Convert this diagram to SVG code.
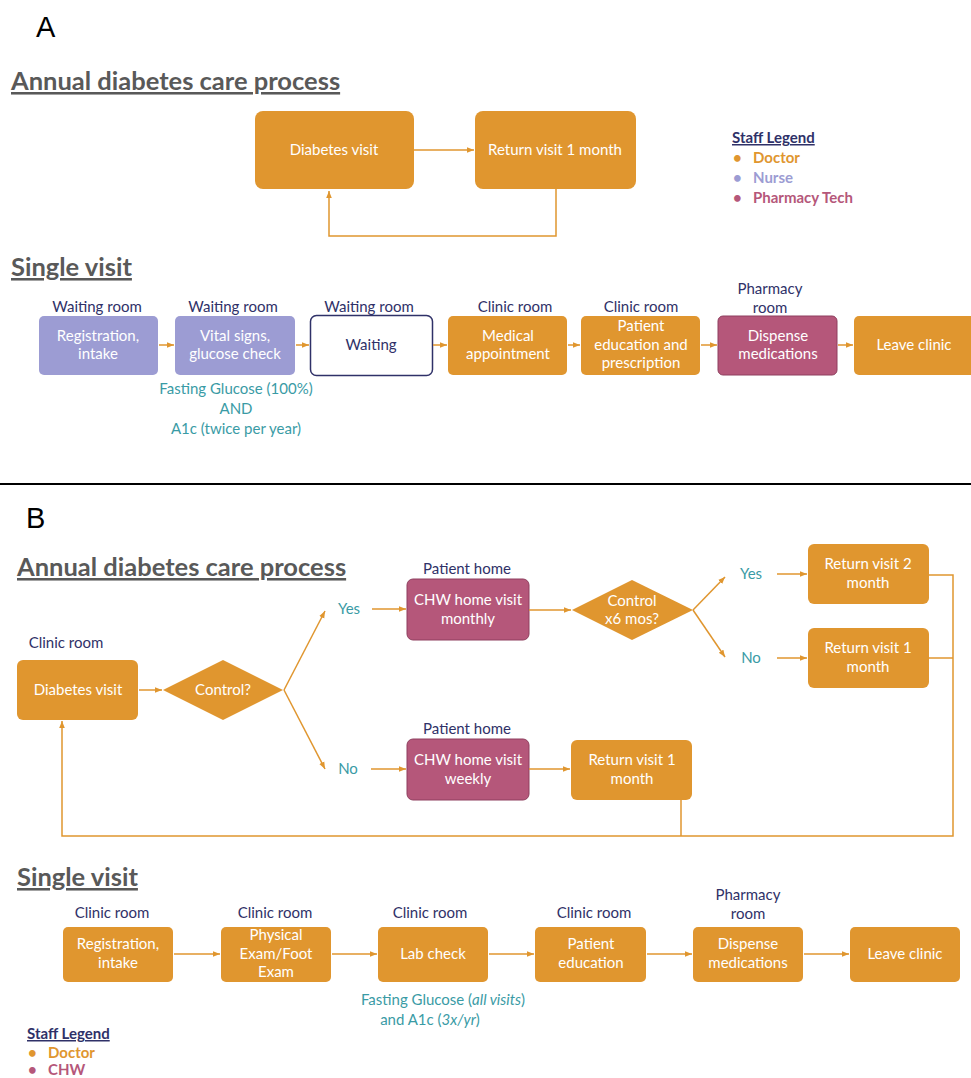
<svg xmlns="http://www.w3.org/2000/svg" width="971" height="1078" viewBox="0 0 971 1078">
<defs>
<style>
.bg{fill:#fff}
.or{fill:#E0962F}
.lv{fill:#9C9CD3}
.pk{fill:#B5577A;stroke:#8E3F5E;stroke-width:1}
.wt{fill:#fff;stroke:#2F3168;stroke-width:1.5}
.bt{font-family:Lato,"Open Sans",sans-serif;font-size:15px;fill:#fff;text-anchor:middle}
.nv{font-family:Lato,"Open Sans",sans-serif;font-size:15px;fill:#2F3168;text-anchor:middle}
.tl{font-family:Lato,"Open Sans",sans-serif;font-size:15px;fill:#3A9BA5;text-anchor:middle}
.h{font-family:Lato,"Open Sans",sans-serif;font-size:25.5px;font-weight:bold;fill:#595959;text-decoration:underline}
.lg{font-family:Lato,"Open Sans",sans-serif;font-size:15px;font-weight:bold}
.pl{font-family:"Liberation Sans",Arial,sans-serif;font-size:29px;fill:#000}
.c{fill:none;stroke:#E0962F;stroke-width:1.5}
</style>
<marker id="ah" viewBox="0 0 10 10" refX="10" refY="5" markerWidth="7" markerHeight="7" markerUnits="userSpaceOnUse" orient="auto">
<path d="M0,1 L10,5 L0,9 Z" fill="#E0962F"/>
</marker>
</defs>
<rect class="bg" x="0" y="0" width="971" height="1078"/>

<!-- Panel A -->
<text class="pl" x="36" y="37">A</text>
<text class="h" x="11" y="90">Annual diabetes care process</text>

<g id="a-diabetes-visit"><rect class="or" x="255" y="111" width="159" height="78" rx="8"/><text class="bt" x="334" y="155">Diabetes visit</text></g>
<g id="a-return-visit"><rect class="or" x="475" y="111" width="161" height="78" rx="8"/><text class="bt" x="555" y="155">Return visit 1 month</text></g>

<g id="a-legend">
<text class="lg" x="732" y="143" fill="#2F3168" text-decoration="underline">Staff Legend</text>
<text class="lg" x="733" y="163" fill="#E0962F">•</text><text class="lg" x="753" y="163" fill="#E0962F">Doctor</text>
<text class="lg" x="733" y="183" fill="#9C9CD3">•</text><text class="lg" x="753" y="183" fill="#9C9CD3">Nurse</text>
<text class="lg" x="733" y="203" fill="#B5577A">•</text><text class="lg" x="753" y="203" fill="#B5577A">Pharmacy Tech</text>
</g>

<text class="h" x="11" y="276">Single visit</text>

<g id="a-loc">
<text class="nv" x="97" y="312">Waiting room</text>
<text class="nv" x="233" y="312">Waiting room</text>
<text class="nv" x="369" y="312">Waiting room</text>
<text class="nv" x="515" y="312">Clinic room</text>
<text class="nv" x="641" y="312">Clinic room</text>
<text class="nv" x="770" y="294">Pharmacy</text>
<text class="nv" x="770" y="313">room</text>
</g>

<g id="a-registration"><rect class="lv" x="39" y="316" width="119" height="59" rx="5"/><text class="bt" x="98" y="341">Registration,</text><text class="bt" x="98" y="359">intake</text></g>
<g id="a-vitals"><rect class="lv" x="175" y="316" width="120" height="59" rx="5"/><text class="bt" x="235" y="341">Vital signs,</text><text class="bt" x="235" y="359">glucose check</text></g>
<g id="a-waiting"><rect class="wt" x="310.5" y="315.5" width="122" height="60" rx="6"/><text class="nv" x="371" y="350">Waiting</text></g>
<g id="a-medical"><rect class="or" x="448" y="316" width="119" height="59" rx="5"/><text class="bt" x="508" y="341">Medical</text><text class="bt" x="508" y="359">appointment</text></g>
<g id="a-education"><rect class="or" x="581" y="316" width="119" height="59" rx="5"/><text class="bt" x="641" y="331">Patient</text><text class="bt" x="641" y="350">education and</text><text class="bt" x="641" y="368">prescription</text></g>
<g id="a-dispense"><rect class="pk" x="718" y="316" width="119" height="59" rx="5"/><text class="bt" x="778" y="341">Dispense</text><text class="bt" x="778" y="359">medications</text></g>
<g id="a-leave"><rect class="or" x="854" y="316" width="125" height="59" rx="5"/><text class="bt" x="914" y="350">Leave clinic</text></g>

<g id="a-note">
<text class="tl" x="236" y="394">Fasting Glucose (100%)</text>
<text class="tl" x="236" y="414">AND</text>
<text class="tl" x="236" y="434">A1c (twice per year)</text>
</g>

<g id="a-connectors">
<line class="c" x1="414" y1="150" x2="474" y2="150" marker-end="url(#ah)"/>
<polyline class="c" points="556,189 556,236 329,236 329,191" marker-end="url(#ah)"/>
<line class="c" x1="159" y1="345" x2="174" y2="345" marker-end="url(#ah)"/>
<line class="c" x1="296" y1="345" x2="309" y2="345" marker-end="url(#ah)"/>
<line class="c" x1="433" y1="345" x2="447" y2="345" marker-end="url(#ah)"/>
<line class="c" x1="568" y1="345" x2="580" y2="345" marker-end="url(#ah)"/>
<line class="c" x1="701" y1="345" x2="717" y2="345" marker-end="url(#ah)"/>
<line class="c" x1="838" y1="345" x2="853" y2="345" marker-end="url(#ah)"/>
</g>

<line x1="0" y1="484" x2="971" y2="484" stroke="#000" stroke-width="2"/>

<!-- Panel B -->
<text class="pl" x="26" y="528">B</text>
<text class="h" x="17" y="576">Annual diabetes care process</text>

<g id="b-loc1">
<text class="nv" x="467" y="574">Patient home</text>
<text class="nv" x="467" y="734">Patient home</text>
<text class="nv" x="66" y="648">Clinic room</text>
</g>

<g id="b-diabetes-visit"><rect class="or" x="17" y="660" width="121" height="60" rx="6"/><text class="bt" x="78" y="695">Diabetes visit</text></g>
<g id="b-control"><polygon class="or" points="163,690 223,660 283,690 223,720"/><text class="bt" x="223" y="695">Control?</text></g>
<g id="b-yes1"><text class="tl" x="349" y="614">Yes</text></g>
<g id="b-no1"><text class="tl" x="348" y="774">No</text></g>
<g id="b-chw-monthly"><rect class="pk" x="407" y="579" width="122" height="61" rx="6"/><text class="bt" x="468" y="605">CHW home visit</text><text class="bt" x="468" y="624">monthly</text></g>
<g id="b-chw-weekly"><rect class="pk" x="407" y="739" width="122" height="61" rx="6"/><text class="bt" x="468" y="765">CHW home visit</text><text class="bt" x="468" y="784">weekly</text></g>
<g id="b-control6"><polygon class="or" points="572,610 632,580 693,610 632,640"/><text class="bt" x="632" y="606">Control</text><text class="bt" x="632" y="624">x6 mos?</text></g>
<g id="b-yes2"><text class="tl" x="751" y="579">Yes</text></g>
<g id="b-no2"><text class="tl" x="751" y="663">No</text></g>
<g id="b-return2"><rect class="or" x="808" y="544" width="121" height="60" rx="6"/><text class="bt" x="868" y="569">Return visit 2</text><text class="bt" x="868" y="588">month</text></g>
<g id="b-return1a"><rect class="or" x="808" y="628" width="121" height="60" rx="6"/><text class="bt" x="868" y="653">Return visit 1</text><text class="bt" x="868" y="672">month</text></g>
<g id="b-return1b"><rect class="or" x="571" y="740" width="121" height="60" rx="6"/><text class="bt" x="632" y="765">Return visit 1</text><text class="bt" x="632" y="784">month</text></g>

<text class="h" x="17" y="886">Single visit</text>

<g id="b-loc2">
<text class="nv" x="112" y="918">Clinic room</text>
<text class="nv" x="275" y="918">Clinic room</text>
<text class="nv" x="430" y="918">Clinic room</text>
<text class="nv" x="594" y="918">Clinic room</text>
<text class="nv" x="748" y="900">Pharmacy</text>
<text class="nv" x="748" y="919">room</text>
</g>

<g id="b-registration"><rect class="or" x="63" y="927" width="110" height="55" rx="5"/><text class="bt" x="118" y="949">Registration,</text><text class="bt" x="118" y="968">intake</text></g>
<g id="b-physical"><rect class="or" x="221" y="927" width="110" height="55" rx="5"/><text class="bt" x="276" y="940">Physical</text><text class="bt" x="276" y="959">Exam/Foot</text><text class="bt" x="276" y="977">Exam</text></g>
<g id="b-lab"><rect class="or" x="378" y="927" width="110" height="55" rx="5"/><text class="bt" x="433" y="959">Lab check</text></g>
<g id="b-education"><rect class="or" x="535" y="927" width="111" height="55" rx="5"/><text class="bt" x="591" y="949">Patient</text><text class="bt" x="591" y="968">education</text></g>
<g id="b-dispense"><rect class="or" x="693" y="927" width="110" height="55" rx="5"/><text class="bt" x="748" y="949">Dispense</text><text class="bt" x="748" y="968">medications</text></g>
<g id="b-leave"><rect class="or" x="850" y="927" width="110" height="55" rx="5"/><text class="bt" x="905" y="959">Leave clinic</text></g>

<g id="b-note">
<text class="tl" x="443" y="1005">Fasting Glucose (<tspan font-style="italic">all visits</tspan>)</text>
<text class="tl" x="430" y="1025">and A1c (<tspan font-style="italic">3x/yr</tspan>)</text>
</g>

<g id="b-legend">
<text class="lg" x="27" y="1039" fill="#2F3168" text-decoration="underline">Staff Legend</text>
<text class="lg" x="28" y="1058" fill="#E0962F">•</text><text class="lg" x="48" y="1058" fill="#E0962F">Doctor</text>
<text class="lg" x="28" y="1075" fill="#B5577A">•</text><text class="lg" x="48" y="1075" fill="#B5577A">CHW</text>
</g>

<g id="b-connectors">
<line class="c" x1="139" y1="690" x2="162" y2="690" marker-end="url(#ah)"/>
<line class="c" x1="284" y1="690" x2="325" y2="611" marker-end="url(#ah)"/>
<line class="c" x1="284" y1="690" x2="325" y2="769" marker-end="url(#ah)"/>
<line class="c" x1="372" y1="609" x2="406" y2="609" marker-end="url(#ah)"/>
<line class="c" x1="371" y1="769" x2="406" y2="769" marker-end="url(#ah)"/>
<line class="c" x1="529" y1="610" x2="571" y2="610" marker-end="url(#ah)"/>
<line class="c" x1="529" y1="769" x2="570" y2="769" marker-end="url(#ah)"/>
<line class="c" x1="693" y1="610" x2="725" y2="577" marker-end="url(#ah)"/>
<line class="c" x1="693" y1="610" x2="725" y2="657" marker-end="url(#ah)"/>
<line class="c" x1="777" y1="574" x2="807" y2="574" marker-end="url(#ah)"/>
<line class="c" x1="777" y1="658" x2="807" y2="658" marker-end="url(#ah)"/>
<polyline class="c" points="929,575 953,575 953,836 62,836 62,721" marker-end="url(#ah)"/>
<line class="c" x1="929" y1="658" x2="953" y2="658"/>
<line class="c" x1="681" y1="800" x2="681" y2="836"/>
<line class="c" x1="174" y1="954" x2="220" y2="954" marker-end="url(#ah)"/>
<line class="c" x1="332" y1="954" x2="377" y2="954" marker-end="url(#ah)"/>
<line class="c" x1="489" y1="954" x2="534" y2="954" marker-end="url(#ah)"/>
<line class="c" x1="647" y1="954" x2="692" y2="954" marker-end="url(#ah)"/>
<line class="c" x1="804" y1="954" x2="849" y2="954" marker-end="url(#ah)"/>
</g>
</svg>
